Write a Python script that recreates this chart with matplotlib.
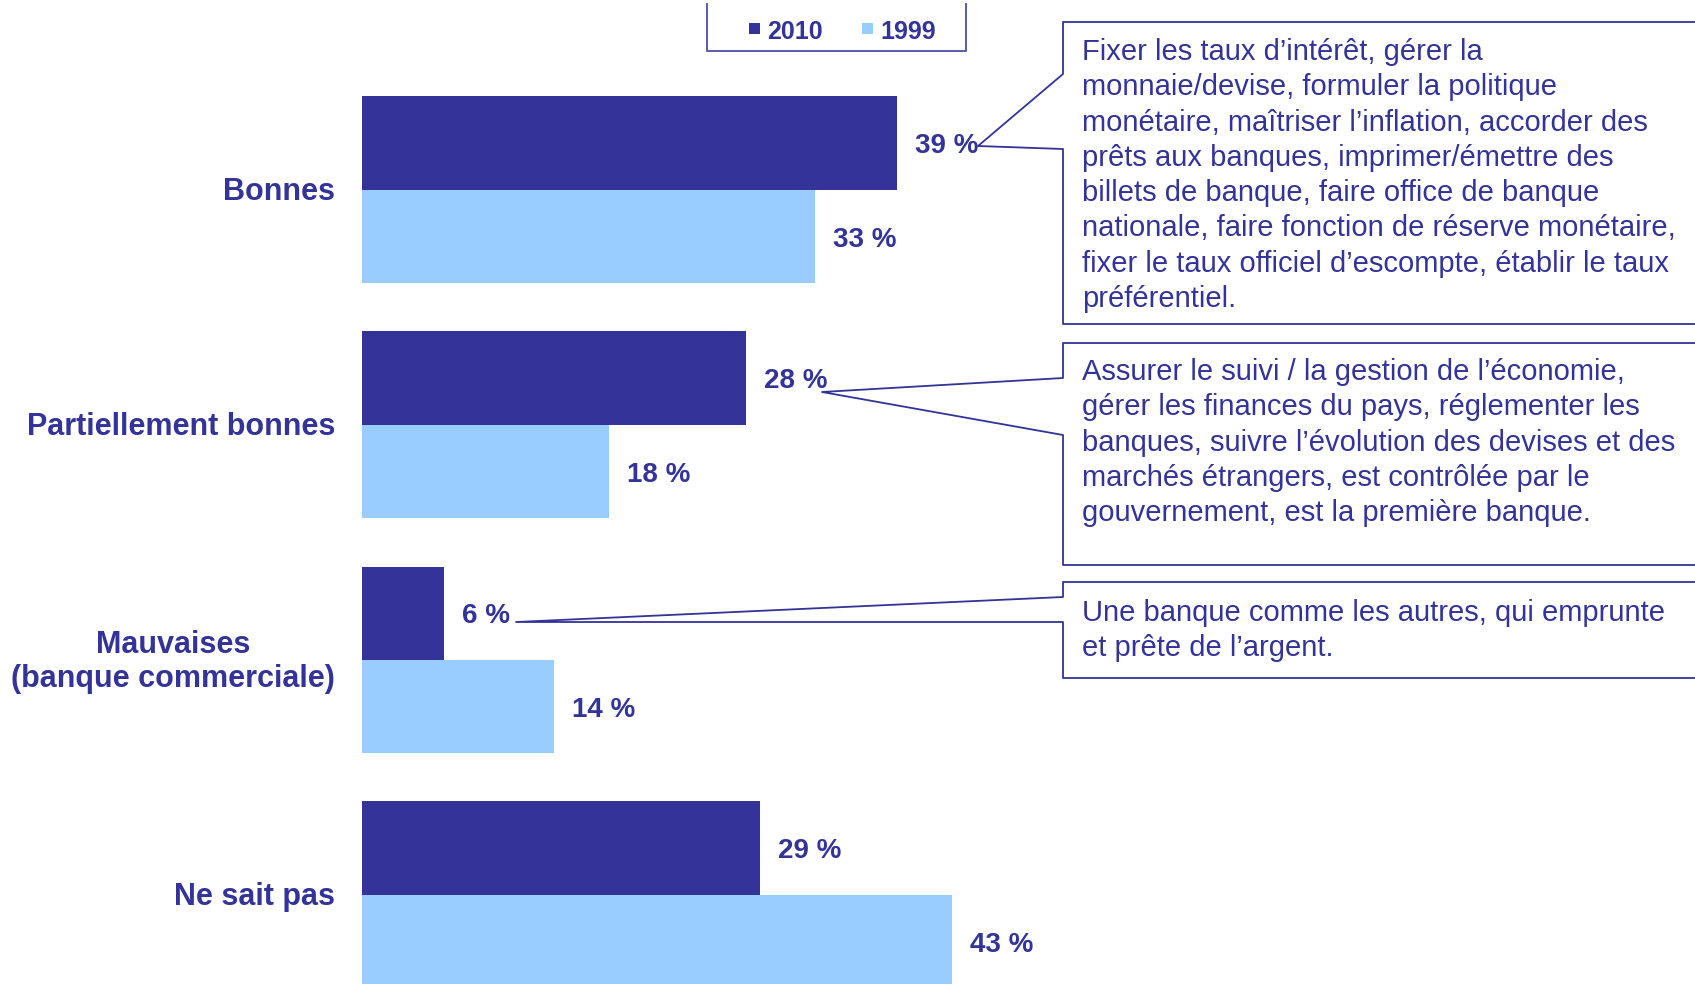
import matplotlib.pyplot as plt
from matplotlib.transforms import Affine2D

plt.rcParams['font.family'] = ['Liberation Sans', 'DejaVu Sans']

# data
categories = ['Bonnes', 'Partiellement bonnes', 'Mauvaises\n(banque commerciale)', 'Ne sait pas']
values_2010 = [39, 28, 6, 29]
values_1999 = [33, 18, 14, 43]
series_labels = ['2010', '1999']

callout_1 = ["Fixer les taux d\u2019intérêt, gérer la",
             "monnaie/devise, formuler la politique",
             "monétaire, maîtriser l\u2019inflation, accorder des",
             "prêts aux banques, imprimer/émettre des",
             "billets de banque, faire office de banque",
             "nationale, faire fonction de réserve monétaire,",
             "fixer le taux officiel d\u2019escompte, établir le taux",
             "préférentiel."]
callout_2 = ["Assurer le suivi / la gestion de l\u2019économie,",
             "gérer les finances du pays, réglementer les",
             "banques, suivre l\u2019évolution des devises et des",
             "marchés étrangers, est contrôlée par le",
             "gouvernement, est la première banque."]
callout_3 = ["Une banque comme les autres, qui emprunte",
             "et prête de l\u2019argent."]

DARK = '#333399'
LIGHT = '#99ccff'

W, H = 1695, 984
fig = plt.figure(figsize=(W / 100, H / 100), dpi=100)

# pixel coords measured from the top-left corner
px = Affine2D().scale(1 / W, -1 / H).translate(0, 1) + fig.transFigure

x0 = 362          # pixel where 0 % sits
pct_px = 13.72    # pixels per percent
pitch = 235       # pixels between groups
c0 = 190          # centre of first group

ax = fig.add_axes([x0 / W, 0, 1 - x0 / W, 1])
ax.set_xlim(0, (W - x0) / pct_px)
ax.set_ylim((H - c0) / pitch, -c0 / pitch)
ax.axis('off')

h = 93.5 / pitch
y = range(len(categories))
y_2010 = [i - h / 2 for i in y]
y_1999 = [i + h / 2 for i in y]
ax.barh(y_2010, values_2010, height=h, color=DARK)
ax.barh(y_1999, values_1999, height=h, color=LIGHT)

for vals, ys in [(values_2010, y_2010), (values_1999, y_1999)]:
    for v, yy in zip(vals, ys):
        ax.annotate(f'{v} %', xy=(v, yy), xytext=(13, -2), textcoords='offset points',
                    ha='left', va='center', fontsize=20, fontweight='bold', color=DARK)

for i, cat in enumerate(categories):
    ax.annotate(cat, xy=(0, i), xytext=(-19.5, -1.5), textcoords='offset points',
                ha='right', va='center', multialignment='center',
                fontsize=22, fontweight='bold', color=DARK, linespacing=1.2)

# legend box (top edge cut off)
fig.add_artist(plt.Line2D([707, 707, 966, 966], [4, 51, 51, 4], transform=px,
                          color='#5a5aad', lw=1.4))
for sx, lab, col in [(749, series_labels[0], DARK), (862, series_labels[1], LIGHT)]:
    fig.add_artist(plt.Rectangle((sx, 34), 11, -11, transform=px, color=col, lw=0))
    fig.text(sx + 18, 32, lab, transform=px, ha='left', va='center',
             fontsize=18, fontweight='bold', color=DARK)


def callout(lines, top, bottom, a_top, a_bot, tip, first_y, left=1063):
    xs = [W + 5, left, left, tip[0], left, left, W + 5]
    ys = [top, top, a_top, tip[1], a_bot, bottom, bottom]
    fig.add_artist(plt.Line2D(xs, ys, transform=px, color=DARK, lw=1.3))
    for k, line in enumerate(lines):
        fig.text(left + 19, first_y + k * 35.3, line, transform=px, ha='left',
                 va='center_baseline', fontsize=21, color=DARK)


callout(callout_1, 22, 324, 74, 149, (978, 146), 49)
callout(callout_2, 343, 565, 378, 435, (822, 392), 369)
callout(callout_3, 582, 678, 597, 622, (516, 622), 610)

fig.savefig('out.png', dpi=100)
